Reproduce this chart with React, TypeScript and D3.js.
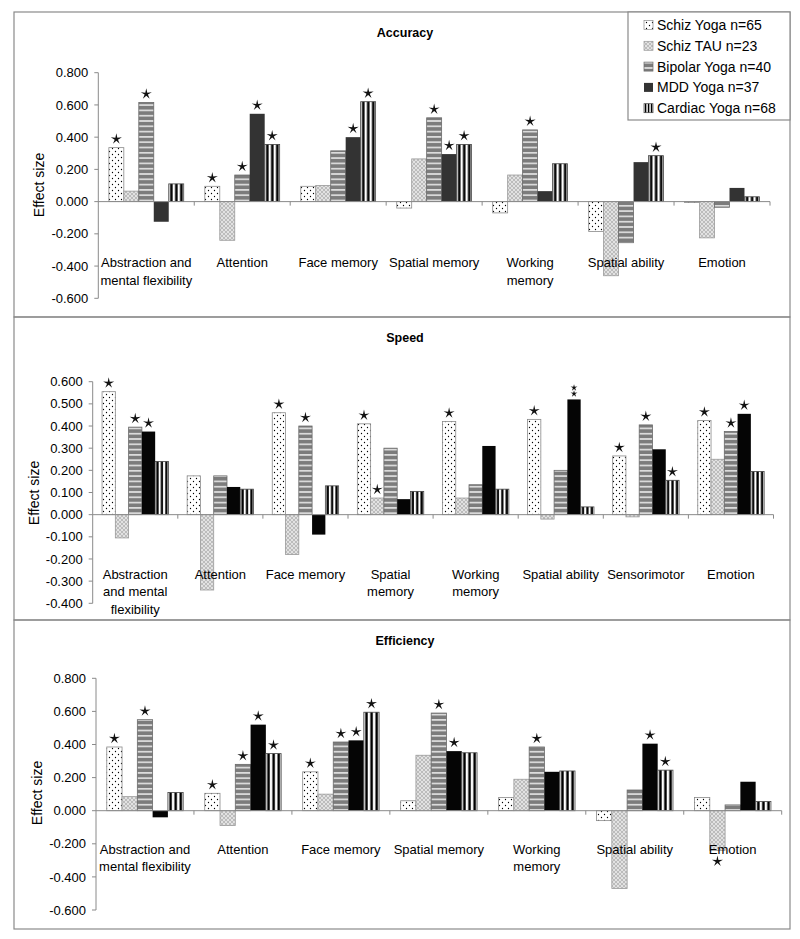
import React from "react";
import * as d3 from "d3";

// ---------------- DATA ----------------
const seriesNames = [
  "Schiz Yoga n=65",
  "Schiz TAU n=23",
  "Bipolar Yoga n=40",
  "MDD Yoga n=37",
  "Cardiac Yoga n=68",
];

const accuracyCategories = [
  "Abstraction and\nmental flexibility",
  "Attention",
  "Face memory",
  "Spatial memory",
  "Working\nmemory",
  "Spatial ability",
  "Emotion",
];
// rows = series (in seriesNames order), columns = categories
const accuracyValues = [
  [0.335, 0.095, 0.095, -0.04, -0.07, -0.185, -0.005],
  [0.065, -0.24, 0.1, 0.265, 0.165, -0.46, -0.225],
  [0.615, 0.165, 0.315, 0.52, 0.445, -0.255, -0.035],
  [-0.125, 0.545, 0.4, 0.295, 0.065, 0.245, 0.085],
  [0.11, 0.355, 0.62, 0.355, 0.235, 0.285, 0.03],
];
const accuracyStars = [
  [1, 1, 0, 0, 0, 0, 0],
  [0, 0, 0, 0, 0, 0, 0],
  [1, 1, 0, 1, 1, 0, 0],
  [0, 1, 1, 1, 0, 0, 0],
  [0, 1, 1, 1, 0, 1, 0],
];
const accuracyTicks = [-0.6, -0.4, -0.2, 0, 0.2, 0.4, 0.6, 0.8];

const speedCategories = [
  "Abstraction\nand mental\nflexibility",
  "Attention",
  "Face memory",
  "Spatial\nmemory",
  "Working\nmemory",
  "Spatial ability",
  "Sensorimotor",
  "Emotion",
];
const speedValues = [
  [0.555, 0.175, 0.46, 0.41, 0.42, 0.43, 0.265, 0.425],
  [-0.105, -0.34, -0.18, 0.075, 0.075, -0.02, -0.01, 0.25],
  [0.395, 0.175, 0.4, 0.3, 0.135, 0.2, 0.405, 0.375],
  [0.375, 0.125, -0.09, 0.07, 0.31, 0.52, 0.295, 0.455],
  [0.24, 0.115, 0.13, 0.105, 0.115, 0.035, 0.155, 0.195],
];
const speedStars = [
  [1, 0, 1, 1, 1, 1, 1, 1],
  [0, 0, 0, 1, 0, 0, 0, 0],
  [1, 0, 1, 0, 0, 0, 1, 1],
  [1, 0, 0, 0, 0, 2, 0, 1],
  [0, 0, 0, 0, 0, 0, 1, 0],
];
const speedTicks = [-0.4, -0.3, -0.2, -0.1, 0, 0.1, 0.2, 0.3, 0.4, 0.5, 0.6];

const efficiencyCategories = [
  "Abstraction and\nmental flexibility",
  "Attention",
  "Face memory",
  "Spatial memory",
  "Working\nmemory",
  "Spatial ability",
  "Emotion",
];
const efficiencyValues = [
  [0.385, 0.105, 0.235, 0.06, 0.08, -0.06, 0.08],
  [0.085, -0.09, 0.1, 0.335, 0.19, -0.47, -0.24],
  [0.55, 0.28, 0.415, 0.59, 0.385, 0.125, 0.035],
  [-0.04, 0.52, 0.425, 0.36, 0.235, 0.405, 0.175],
  [0.11, 0.345, 0.595, 0.35, 0.24, 0.245, 0.055],
];
const efficiencyStars = [
  [1, 1, 1, 0, 0, 0, 0],
  [0, 0, 0, 0, 0, 0, 1],
  [1, 1, 1, 1, 1, 0, 0],
  [0, 1, 1, 1, 0, 1, 0],
  [0, 1, 1, 0, 0, 1, 0],
];
const efficiencyTicks = [-0.6, -0.4, -0.2, 0, 0.2, 0.4, 0.6, 0.8];

// ---------------- LAYOUT / STYLE ----------------
const W = 800;
const H = 939;
const FONT = "'Liberation Sans', Arial, Helvetica, sans-serif";
const FRAME_L = 14;
const FRAME_R = 790;
const GRID = "#8a8a8a";

const panels = [
  {
    title: "Accuracy",
    categories: accuracyCategories,
    values: accuracyValues,
    stars: accuracyStars,
    ticks: accuracyTicks,
    top: 12,
    bottom: 317,
    yRange: [298.3, 72.7],
    xRange: [98.3, 770],
    titleY: 36.5,
    labelY: 262.7,
    ylabX: 39,
    ylabY: 185,
    mdd: "#333333",
  },
  {
    title: "Speed",
    categories: speedCategories,
    values: speedValues,
    stars: speedStars,
    ticks: speedTicks,
    top: 317,
    bottom: 620,
    yRange: [603.3, 381.7],
    xRange: [92.7, 773.5],
    titleY: 341.5,
    labelY: 574.3,
    ylabX: 34,
    ylabY: 493,
    mdd: "#050505",
  },
  {
    title: "Efficiency",
    categories: efficiencyCategories,
    values: efficiencyValues,
    stars: efficiencyStars,
    ticks: efficiencyTicks,
    top: 620,
    bottom: 929,
    yRange: [910, 678.3],
    xRange: [96, 781.7],
    titleY: 644.5,
    labelY: 849.3,
    ylabX: 36.7,
    ylabY: 793,
    mdd: "#050505",
  },
];

const fmt = (v: number) => d3.format(".3f")(v).replace("\u2212", "-");

function starPath(r: number, ri: number) {
  const pts: string[] = [];
  for (let i = 0; i < 10; i++) {
    const a = -Math.PI / 2 + (i * Math.PI) / 5;
    const rad = i % 2 === 0 ? r : ri;
    pts.push(`${(Math.cos(a) * rad).toFixed(2)},${(Math.sin(a) * rad).toFixed(2)}`);
  }
  return "M" + pts.join("L") + "Z";
}

const fills = (mdd: string) => [
  "url(#pDots)",
  "url(#pHatch)",
  "url(#pHoriz)",
  mdd,
  "url(#pVert)",
];
const strokes = ["#8a8a8a", "#9a9a9a", "#6a6a6a", "none", "#444"];

function Patterns() {
  return (
    <defs>
      <pattern id="pDots" patternUnits="userSpaceOnUse" width="6" height="6">
        <rect width="6" height="6" fill="#fff" />
        <circle cx="1.5" cy="1.5" r="0.65" fill="#000" />
        <circle cx="4.5" cy="4.5" r="0.65" fill="#000" />
      </pattern>
      <pattern id="pHatch" patternUnits="userSpaceOnUse" width="4" height="4">
        <rect width="4" height="4" fill="#bcbcbc" />
        <path d="M0,0L4,4M4,0L0,4" stroke="#e6e6e6" strokeWidth="0.9" />
      </pattern>
      <pattern id="pHoriz" patternUnits="userSpaceOnUse" width="6" height="5.3">
        <rect width="6" height="5.3" fill="#7c7c7c" />
        <rect y="3.7" width="6" height="1.4" fill="#f2f2f2" />
      </pattern>
      <pattern
        id="pVert"
        patternUnits="objectBoundingBox"
        patternContentUnits="objectBoundingBox"
        width={1 / 3}
        height="1"
      >
        <rect width={1 / 3} height="1" fill="#fff" />
        <rect x="0.09" width="0.17" height="1" fill="#000" />
      </pattern>
    </defs>
  );
}

function Panel({ p }: { p: any }) {
  const y = d3
    .scaleLinear()
    .domain([p.ticks[0], p.ticks[p.ticks.length - 1]])
    .range(p.yRange);
  const x0 = d3
    .scaleBand<number>()
    .domain(d3.range(p.categories.length))
    .range(p.xRange)
    .paddingInner(0)
    .paddingOuter(0);
  const bw = x0.bandwidth();
  const x1 = d3
    .scaleBand<number>()
    .domain(d3.range(seriesNames.length))
    .range([bw * 0.11, bw * 0.89])
    .padding(0);
  const w = x1.bandwidth();
  const y0 = y(0);
  const axisX = p.xRange[0];
  const f = fills(p.mdd);
  const big = starPath(5.8, 1.7);
  const small = starPath(3.6, 1.2);

  const bars: any[] = [];
  const stars: any[] = [];
  p.values.forEach((row: number[], s: number) => {
    row.forEach((v: number, c: number) => {
      const bx = (x0(c) as number) + (x1(s) as number);
      const top = Math.min(y(v), y0);
      const h = Math.max(Math.abs(y(v) - y0), 0.8);
      bars.push(
        <rect
          key={`b${s}-${c}`}
          x={bx}
          y={top}
          width={w}
          height={h}
          fill={f[s]}
          stroke={strokes[s]}
          strokeWidth={0.8}
        />
      );
      const st = p.stars[s][c];
      const cx = bx + w / 2;
      if (st === 1) {
        const cy = v >= 0 ? y(v) - 8.5 : y(v) + 11;
        stars.push(<path key={`s${s}-${c}`} d={big} transform={`translate(${cx},${cy})`} fill="#111" />);
      } else if (st === 2) {
        stars.push(<path key={`s${s}-${c}a`} d={small} transform={`translate(${cx},${y(v) - 5.7})`} fill="#111" />);
        stars.push(<path key={`s${s}-${c}b`} d={small} transform={`translate(${cx},${y(v) - 11.7})`} fill="#111" />);
      }
    });
  });

  return (
    <g>
      <rect
        x={FRAME_L}
        y={p.top}
        width={FRAME_R - FRAME_L}
        height={p.bottom - p.top}
        fill="none"
        stroke={GRID}
        strokeWidth={1.2}
      />
      <text
        x={405}
        y={p.titleY}
        textAnchor="middle"
        fontWeight="bold"
        fontSize={12.5}
        fontFamily={FONT}
      >
        {p.title}
      </text>
      {/* y axis */}
      <line x1={axisX} x2={axisX} y1={y(p.ticks[0])} y2={y(p.ticks[p.ticks.length - 1])} stroke={GRID} />
      {p.ticks.map((t: number) => (
        <g key={t}>
          <line x1={axisX - 4} x2={axisX} y1={y(t)} y2={y(t)} stroke={GRID} />
          <text
            x={axisX - 10}
            y={y(t) + 4.6}
            textAnchor="end"
            fontSize={13}
            fontFamily={FONT}
          >
            {fmt(t)}
          </text>
        </g>
      ))}
      <text
        transform={`translate(${p.ylabX + 5},${p.ylabY}) rotate(-90)`}
        textAnchor="middle"
        fontSize={14}
        fontFamily={FONT}
      >
        Effect size
      </text>
      {bars}
      {/* zero axis */}
      <line x1={axisX} x2={p.xRange[1]} y1={y0} y2={y0} stroke={GRID} />
      {p.categories.map((_: string, c: number) => (
        <line
          key={`t${c}`}
          x1={(x0(c) as number) + bw}
          x2={(x0(c) as number) + bw}
          y1={y0}
          y2={y0 + 4}
          stroke={GRID}
        />
      ))}
      {stars}
      {p.categories.map((cat: string, c: number) => (
        <text
          key={`l${c}`}
          x={(x0(c) as number) + bw / 2}
          y={p.labelY + 4.6}
          textAnchor="middle"
          fontSize={13}
          fontFamily={FONT}
        >
          {cat.split("\n").map((ln, i) => (
            <tspan key={i} x={(x0(c) as number) + bw / 2} dy={i === 0 ? 0 : 17.3}>
              {ln}
            </tspan>
          ))}
        </text>
      ))}
    </g>
  );
}

function Legend() {
  const lx = 628;
  const ly = 12;
  const f = fills("#333333");
  return (
    <g>
      <rect x={lx} y={ly} width={FRAME_R - lx} height={108} fill="#fff" stroke={GRID} strokeWidth={1.2} />
      {seriesNames.map((s, i) => {
        const cy = 25 + i * 20.8;
        return (
          <g key={s}>
            <rect x={644} y={cy - 4.5} width={9} height={9} fill={f[i]} stroke={strokes[i]} strokeWidth={0.7} />
            <text x={657} y={cy + 5} fontSize={14} fontFamily={FONT}>
              {s}
            </text>
          </g>
        );
      })}
    </g>
  );
}

export default function App() {
  return (
    <svg
      width={W}
      height={H}
      viewBox={`0 0 ${W} ${H}`}
      style={{ position: "absolute", left: 0, top: 0, background: "#fff" }}
    >
      <Patterns />
      <rect width={W} height={H} fill="#fff" />
      {panels.map((p) => (
        <Panel key={p.title} p={p} />
      ))}
      <Legend />
    </svg>
  );
}
